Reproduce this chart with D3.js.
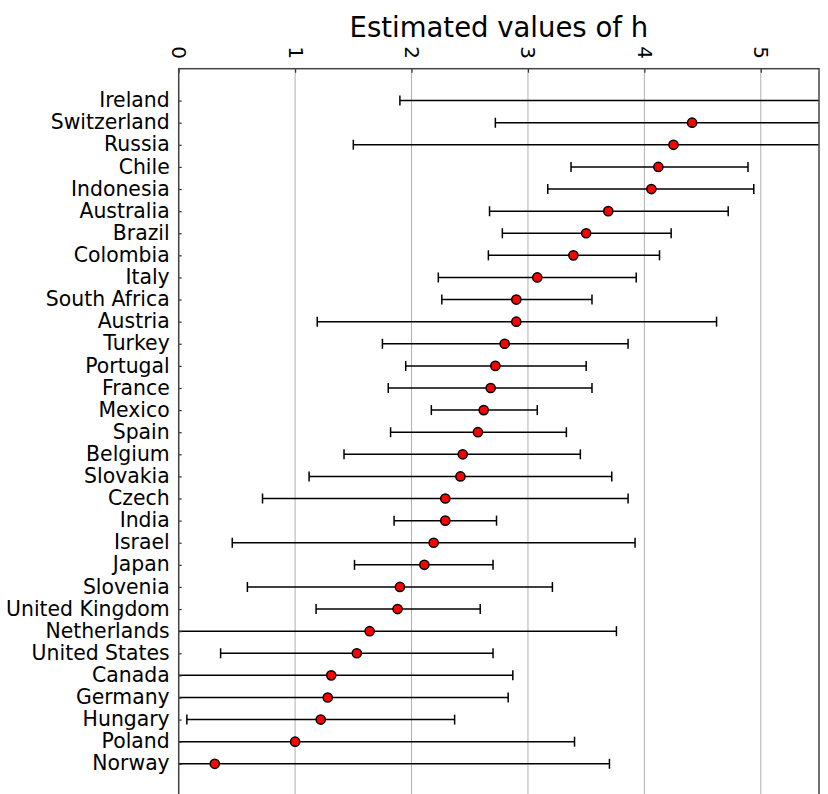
<!DOCTYPE html>
<html>
<head>
<meta charset="utf-8">
<script src="https://cdn.jsdelivr.net/npm/d3@7/dist/d3.min.js"></script>
<style>
  html, body { margin: 0; padding: 0; background: #fff; }
  svg { display: block; font-family: "DejaVu Sans", sans-serif; }
</style>
</head>
<body>
<svg id="chart" width="828" height="794"></svg>
<script>
// Countries, top to bottom
const countries = [
  "Ireland", "Switzerland", "Russia", "Chile", "Indonesia", "Australia",
  "Brazil", "Colombia", "Italy", "South Africa", "Austria", "Turkey",
  "Portugal", "France", "Mexico", "Spain", "Belgium", "Slovakia", "Czech",
  "India", "Israel", "Japan", "Slovenia", "United Kingdom", "Netherlands",
  "United States", "Canada", "Germany", "Hungary", "Poland", "Norway"
];
// Point estimate of h
const estimates = [
  6.80, 4.41, 4.25, 4.12, 4.06, 3.69,
  3.50, 3.39, 3.08, 2.90, 2.90, 2.80,
  2.72, 2.68, 2.62, 2.57, 2.44, 2.42, 2.29,
  2.29, 2.19, 2.11, 1.90, 1.88, 1.64,
  1.53, 1.31, 1.28, 1.22, 1.00, 0.31
];
// Lower and upper ends of the interval
const lower = [
  1.90, 2.72, 1.50, 3.37, 3.17, 2.67,
  2.78, 2.66, 2.23, 2.26, 1.19, 1.75,
  1.95, 1.80, 2.17, 1.82, 1.42, 1.12, 0.72,
  1.85, 0.46, 1.51, 0.59, 1.18, -0.48,
  0.36, -0.26, -0.27, 0.07, -1.40, -3.07
];
const upper = [
  11.70, 6.10, 7.00, 4.89, 4.94, 4.72,
  4.23, 4.13, 3.93, 3.55, 4.62, 3.86,
  3.50, 3.55, 3.08, 3.33, 3.45, 3.72, 3.86,
  2.73, 3.92, 2.70, 3.21, 2.59, 3.76,
  2.70, 2.87, 2.83, 2.37, 3.40, 3.70
];
const xTicks = [0, 1, 2, 3, 4, 5];

const rows = countries.map((c, i) => ({
  name: c, idx: countries.length - 1 - i,
  est: estimates[i], lo: lower[i], hi: upper[i]
}));

const svg = d3.select("#chart");
const L = 178.7, R = 819, T = 68.7, B = 797;

const x = d3.scaleLinear().domain([0, 5.5]).range([L, R]);
// row index 0 (bottom) .. 30 (top)
const y = d3.scaleLinear().domain([0, 30]).range([763.8, 100.6]);

svg.append("defs").append("clipPath").attr("id", "plotclip")
  .append("rect").attr("x", L).attr("y", T).attr("width", R - L).attr("height", B - T);

// vertical grid lines
svg.append("g").selectAll("line").data(xTicks).join("line")
  .attr("x1", d => x(d)).attr("x2", d => x(d))
  .attr("y1", T).attr("y2", B)
  .attr("stroke", "#b0b0b0").attr("stroke-width", 1);

// error bars and estimates
const plot = svg.append("g").attr("clip-path", "url(#plotclip)");
const capH = 5;
const bars = plot.selectAll("g.row").data(rows).join("g").attr("class", "row");
bars.append("line")
  .attr("x1", d => x(d.lo)).attr("x2", d => x(d.hi))
  .attr("y1", d => y(d.idx)).attr("y2", d => y(d.idx))
  .attr("stroke", "#000").attr("stroke-width", 1.5);
bars.append("line")
  .attr("x1", d => x(d.lo)).attr("x2", d => x(d.lo))
  .attr("y1", d => y(d.idx) - capH).attr("y2", d => y(d.idx) + capH)
  .attr("stroke", "#000").attr("stroke-width", 1.5);
bars.append("line")
  .attr("x1", d => x(d.hi)).attr("x2", d => x(d.hi))
  .attr("y1", d => y(d.idx) - capH).attr("y2", d => y(d.idx) + capH)
  .attr("stroke", "#000").attr("stroke-width", 1.5);
bars.append("circle")
  .attr("cx", d => x(d.est)).attr("cy", d => y(d.idx))
  .attr("r", 4.6)
  .attr("fill", "#ff0000").attr("stroke", "#000").attr("stroke-width", 1.5);

// top axis with rotated tick labels
const xAxis = svg.append("g").attr("transform", `translate(0,${T})`)
  .call(d3.axisTop(x).tickValues(xTicks).tickFormat(d3.format("d"))
    .tickSize(-4).tickSizeOuter(0));
xAxis.select(".domain").remove();
xAxis.selectAll(".tick line").attr("stroke", "#333").attr("stroke-width", 1.2);
xAxis.selectAll(".tick text")
  .attr("y", 0).attr("dy", null)
  .attr("transform", "translate(0,-16) rotate(90)")
  .attr("text-anchor", "middle")
  .attr("dominant-baseline", "central")
  .attr("font-size", 20).attr("fill", "#000")
  .attr("font-family", "DejaVu Sans");

// left axis with country names
const yAxis = svg.append("g").attr("transform", `translate(${L},0)`)
  .call(d3.axisLeft(y).tickValues(rows.map(r => r.idx))
    .tickFormat(i => countries[countries.length - 1 - i])
    .tickSize(-3).tickPadding(9).tickSizeOuter(0));
yAxis.select(".domain").remove();
yAxis.selectAll(".tick line").attr("stroke", "#333").attr("stroke-width", 1.2);
yAxis.selectAll(".tick text")
  .attr("font-size", 20.4).attr("fill", "#000")
  .attr("dy", "0.3em")
  .attr("font-family", "DejaVu Sans");

// frame
svg.append("rect").attr("x", L).attr("y", T).attr("width", R - L).attr("height", B - T)
  .attr("fill", "none").attr("stroke", "#444").attr("stroke-width", 1.5);

// title
svg.append("text")
  .attr("x", (L + R) / 2).attr("y", 37)
  .attr("text-anchor", "middle")
  .attr("font-size", 27.5).attr("fill", "#000")
  .text("Estimated values of h");
</script>
</body>
</html>
